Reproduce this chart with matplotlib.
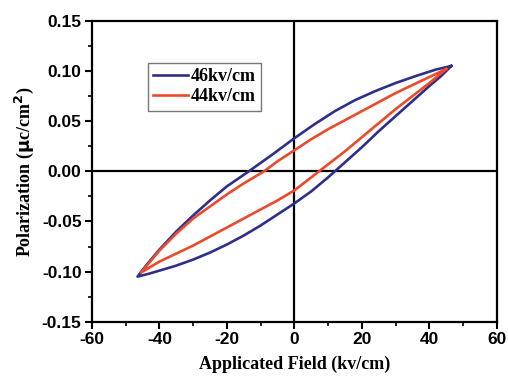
import matplotlib
matplotlib.use('Agg')
import matplotlib.pyplot as plt
from matplotlib.ticker import MultipleLocator, FormatStrFormatter

plt.rcParams['axes.unicode_minus'] = False

# 46 kv/cm loop
blue_up_x = [46.5, 42, 36, 30, 24, 18, 12, 6, 0, -6, -13.5, -20, -25, -30, -35, -40, -43.5, -46.5]
blue_up_y = [0.105, 0.1015, 0.095, 0.088, 0.080, 0.071, 0.060, 0.047, 0.033, 0.018, 0.000,
             -0.015, -0.029, -0.044, -0.060, -0.078, -0.092, -0.105]
blue_lo_x = [-46.5, -43, -40, -35, -30, -25, -20, -15, -10, -5, 0, 5, 10, 15, 20, 25, 30, 35, 40, 43.5, 46.5]
blue_lo_y = [-0.105, -0.102, -0.099, -0.094, -0.088, -0.081, -0.073, -0.064, -0.054, -0.043, -0.032,
             -0.020, -0.006, 0.009, 0.024, 0.040, 0.055, 0.070, 0.085, 0.095, 0.105]

# 44 kv/cm loop
red_up_x = [45, 40, 35, 30, 25, 20, 15, 10, 5, 0, -5, -9, -15, -20, -25, -30, -35, -40, -45.5]
red_up_y = [0.102, 0.094, 0.086, 0.078, 0.069, 0.060, 0.051, 0.042, 0.032, 0.021, 0.010, 0.000,
            -0.012, -0.023, -0.035, -0.047, -0.062, -0.079, -0.101]
red_lo_x = [-45.5, -42, -40, -35, -30, -25, -20, -15, -10, -5, 0, 5, 10, 15, 20, 25, 30, 35, 40, 45]
red_lo_y = [-0.101, -0.094, -0.090, -0.082, -0.074, -0.065, -0.056, -0.047, -0.038, -0.029, -0.019,
            -0.006, 0.007, 0.020, 0.034, 0.048, 0.062, 0.075, 0.088, 0.102]

blue = '#2e2e8c'
red = '#ec4a2a'

fig = plt.figure(figsize=(5.08, 3.79), dpi=100)
ax = fig.add_axes([0.181, 0.151, 0.797, 0.794])

ax.plot(blue_up_x + blue_lo_x, blue_up_y + blue_lo_y, color=blue, lw=1.9, label='46kv/cm')
ax.plot(red_up_x + red_lo_x, red_up_y + red_lo_y, color=red, lw=1.9, label='44kv/cm')

ax.axhline(0, color='black', lw=1.6, zorder=0)
ax.axvline(0, color='black', lw=1.6, zorder=0)

ax.set_xlim(-60, 60)
ax.set_ylim(-0.15, 0.15)
ax.xaxis.set_major_locator(MultipleLocator(20))
ax.xaxis.set_minor_locator(MultipleLocator(10))
ax.yaxis.set_major_locator(MultipleLocator(0.05))
ax.yaxis.set_minor_locator(MultipleLocator(0.025))
ax.yaxis.set_major_formatter(FormatStrFormatter('%.2f'))
ax.tick_params(which='major', direction='out', length=5, width=1.5, pad=2.5)
ax.tick_params(which='minor', direction='out', length=3, width=1.2)
for lab in ax.get_xticklabels() + ax.get_yticklabels():
    lab.set_fontfamily('Liberation Sans')
    lab.set_fontweight('bold')
    lab.set_fontsize(12.5)
for sp in ax.spines.values():
    sp.set_linewidth(1.6)

ax.set_xlabel('Applicated Field (kv/cm)', fontfamily='Liberation Serif',
              fontweight='bold', fontsize=13, labelpad=6)
ax.set_ylabel(r'Polarization ($\mathbf{\mu}$c/cm$^\mathbf{2}$)', fontfamily='Liberation Serif',
              fontweight='bold', fontsize=13, labelpad=4)

leg = ax.legend(loc='upper left', bbox_to_anchor=(0.138, 0.86), borderaxespad=0, frameon=True,
                fancybox=False, edgecolor='#555555', handlelength=1.9, handletextpad=0.15,
                borderpad=0.3, labelspacing=0.15,
                prop={'family': 'Liberation Serif', 'weight': 'bold', 'size': 13})
leg.get_frame().set_linewidth(1.0)

fig.savefig('out.png', dpi=100)
